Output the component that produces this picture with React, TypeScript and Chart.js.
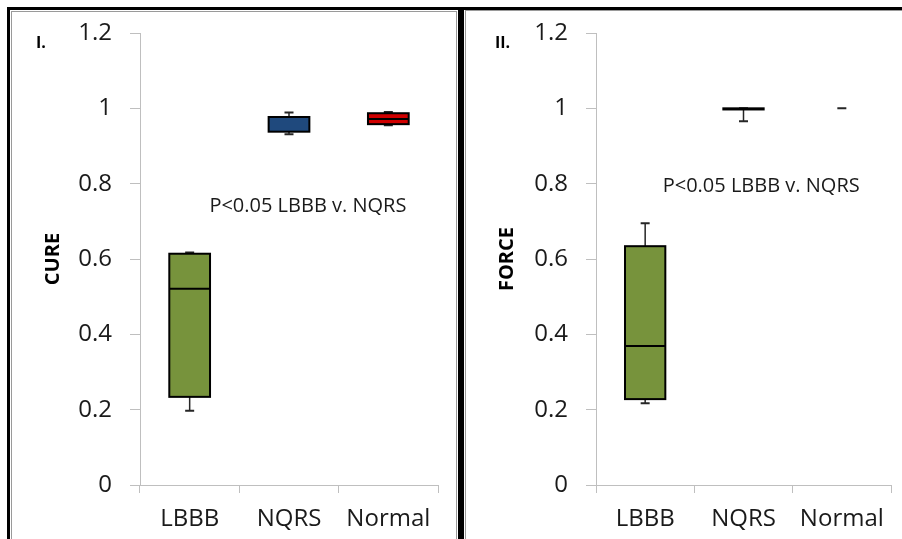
import React, { useEffect, useRef } from "react";
import { Chart, registerables } from "chart.js";

Chart.register(...registerables);

// ---------- data ----------
const categories = ["LBBB", "NQRS", "Normal"];
const yTickLabels = ["0", "0.2", "0.4", "0.6", "0.8", "1", "1.2"];
const annotationText = "P<0.05 LBBB v. NQRS";

// Panel I – CURE
const cureMin = [0.197, 0.931, 0.955];
const cureQ1 = [0.234, 0.938, 0.958];
const cureMedian = [0.521, 0.977, 0.972];
const cureQ3 = [0.614, 0.977, 0.987];
const cureMax = [0.617, 0.989, 0.99];
const cureColors = ["#77933C", "#1F497D", "#D00000"];

// Panel II – FORCE
const forceMin = [0.217, 0.966, 1.0];
const forceQ1 = [0.228, 0.997, 1.0];
const forceMedian = [0.369, 0.998, 1.0];
const forceQ3 = [0.634, 1.0, 1.0];
const forceMax = [0.695, 1.0, 1.0];
const forceColors = ["#77933C", "#77933C", "#77933C"];

const FONT = "'Open Sans', sans-serif";
const TEXT = "#1a1a1a";
const AXIS = "#bfbfbf";

type Stats = { min: number[]; q1: number[]; med: number[]; q3: number[]; max: number[] };

const boxPlugin = {
  id: "boxWhiskers",
  afterDatasetsDraw(chart: any, _args: any, opts: any) {
    const { ctx } = chart;
    const meta = chart.getDatasetMeta(0);
    const ys = chart.scales.y;
    const xs = chart.scales.x;
    const s: Stats = opts.stats;
    ctx.save();
    meta.data.forEach((bar: any, i: number) => {
      const { x, width } = bar.getProps(["x", "width"], true);
      const left = x - width / 2;
      const pMin = ys.getPixelForValue(s.min[i]);
      const pQ1 = ys.getPixelForValue(s.q1[i]);
      const pMed = ys.getPixelForValue(s.med[i]);
      const pQ3 = ys.getPixelForValue(s.q3[i]);
      const pMax = ys.getPixelForValue(s.max[i]);
      // whiskers
      ctx.strokeStyle = "#262626";
      ctx.lineWidth = 1.5;
      ctx.beginPath();
      ctx.moveTo(x, pQ1);
      ctx.lineTo(x, pMin);
      ctx.moveTo(x, pQ3);
      ctx.lineTo(x, pMax);
      ctx.stroke();
      ctx.lineWidth = 2;
      ctx.beginPath();
      ctx.moveTo(x - 4.5, pMin);
      ctx.lineTo(x + 4.5, pMin);
      ctx.moveTo(x - 4.5, pMax);
      ctx.lineTo(x + 4.5, pMax);
      ctx.stroke();
      // box outline + median
      if (s.q3[i] - s.q1[i] > 1e-9) {
        ctx.strokeStyle = "#000";
        ctx.lineWidth = 2;
        ctx.strokeRect(left, pQ3, width, pQ1 - pQ3);
        ctx.beginPath();
        ctx.moveTo(left, pMed);
        ctx.lineTo(left + width, pMed);
        ctx.stroke();
      }
    });
    // annotation
    ctx.fillStyle = TEXT;
    ctx.font = `20px ${FONT}`;
    ctx.textAlign = "center";
    ctx.textBaseline = "middle";
    ctx.fillText(
      annotationText,
      xs.getPixelForValue(opts.note.x),
      ys.getPixelForValue(opts.note.y)
    );
    // panel label
    ctx.font = `bold 16px ${FONT}`;
    ctx.textAlign = "left";
    ctx.textBaseline = "alphabetic";
    ctx.fillStyle = "#000";
    ctx.fillText(opts.label, opts.labelX, 36);
    ctx.restore();
  },
};

type PanelProps = {
  title: string;
  label: string;
  labelX: number;
  stats: Stats;
  colors: string[];
  width: number;
  yAxisWidth: number;
  padRight: number;
  note: { x: number; y: number };
  left: number;
};

function Panel(p: PanelProps) {
  const ref = useRef<HTMLCanvasElement>(null);
  useEffect(() => {
    let chart: Chart | null = null;
    let cancelled = false;
    const make = () => {
      if (cancelled || !ref.current) return;
      chart = new Chart(ref.current, {
        type: "bar",
        data: {
          labels: categories,
          datasets: [
            {
              data: p.stats.q1.map((v, i) => [v, p.stats.q3[i]]) as any,
              backgroundColor: p.colors,
              borderWidth: 0,
              barPercentage: 0.41,
              categoryPercentage: 1,
            },
          ],
        },
        options: {
          responsive: false,
          animation: false,
          layout: { padding: { top: 21, right: p.padRight, left: 0, bottom: 0 } },
          plugins: {
            legend: { display: false },
            tooltip: { enabled: false },
            boxWhiskers: {
              stats: p.stats,
              note: p.note,
              label: p.label,
              labelX: p.labelX,
            },
          } as any,
          scales: {
            x: {
              offset: true,
              afterFit: (scale: any) => {
                scale.height = 54;
                scale.paddingLeft = 0;
                scale.paddingRight = 0;
              },
              grid: { offset: true, drawOnChartArea: false, tickLength: 8, color: AXIS },
              border: { color: AXIS, width: 1 },
              ticks: { padding: 12, color: TEXT, font: { family: FONT, size: 24 } },
            },
            y: {
              min: 0,
              max: 1.2,
              afterFit: (scale: any) => {
                scale.width = p.yAxisWidth;
                scale.paddingTop = 0;
                scale.paddingBottom = 0;
              },
              grid: { drawOnChartArea: false, tickLength: 10, color: AXIS },
              border: { color: AXIS, width: 1 },
              ticks: {
                stepSize: 0.2,
                padding: 18,
                color: TEXT,
                font: { family: FONT, size: 24 },
                callback: (_v: any, i: number) => yTickLabels[i],
              },
              title: {
                display: true,
                text: p.title,
                color: "#000",
                font: { family: FONT, size: 20, weight: "bold" },
                padding: { top: 29, bottom: 0 },
              },
            },
          },
        },
        plugins: [boxPlugin],
      });
    };
    const fonts: any = (document as any).fonts;
    if (fonts && fonts.load) {
      Promise.all([
        fonts.load(`24px 'Open Sans'`),
        fonts.load(`bold 20px 'Open Sans'`),
      ]).then(make, make);
    } else make();
    return () => {
      cancelled = true;
      if (chart) chart.destroy();
    };
  }, []);
  return (
    <canvas
      ref={ref}
      width={p.width}
      height={527}
      style={{ position: "absolute", left: p.left, top: 12, width: p.width, height: 527 }}
    />
  );
}

const abs = (l: number, t: number, w: number, h: number, c: string): React.CSSProperties => ({
  position: "absolute",
  left: l,
  top: t,
  width: w,
  height: h,
  background: c,
});

export default function App() {
  return (
    <div
      style={{
        position: "fixed",
        left: 0,
        top: 0,
        width: 902,
        height: 539,
        background: "#fff",
        overflow: "hidden",
      }}
    >
      {/* frame */}
      <div style={abs(7, 7, 895, 3, "#000")} />
      <div style={abs(7, 7, 3, 532, "#000")} />
      <div style={abs(458, 7, 6, 532, "#000")} />
      <div style={abs(11, 11, 445, 1, "#9a9a9a")} />
      <div style={abs(11, 11, 1, 528, "#9a9a9a")} />
      <div style={abs(456, 11, 1, 528, "#9a9a9a")} />
      <div style={abs(465, 10, 437, 1, "#9a9a9a")} />
      <div style={abs(465, 10, 1, 529, "#9a9a9a")} />
      <Panel
        title="CURE"
        label="I."
        labelX={24}
        stats={{ min: cureMin, q1: cureQ1, med: cureMedian, q3: cureQ3, max: cureMax }}
        colors={cureColors}
        width={444}
        left={12}
        yAxisWidth={128}
        padRight={18}
        note={{ x: 1.19, y: 0.74 }}
      />
      <Panel
        title="FORCE"
        label="II."
        labelX={29}
        stats={{ min: forceMin, q1: forceQ1, med: forceMedian, q3: forceQ3, max: forceMax }}
        colors={forceColors}
        width={436}
        left={466}
        yAxisWidth={130}
        padRight={11}
        note={{ x: 1.18, y: 0.793 }}
      />
    </div>
  );
}
